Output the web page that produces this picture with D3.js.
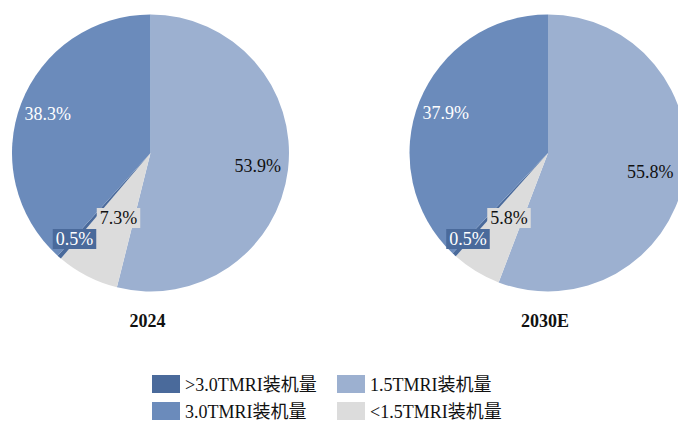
<!DOCTYPE html>
<html><head><meta charset="utf-8">
<script src="https://cdn.jsdelivr.net/npm/d3@7"></script>
<style>body{margin:0;background:#fff;}svg{display:block;}</style>
</head><body>
<svg id="c" width="678" height="421"></svg>
<script>
const categories = ["1.5TMRI装机量", "<1.5TMRI装机量", ">3.0TMRI装机量", "3.0TMRI装机量"];
const years = ["2024", "2030E"];
const values2024 = [53.9, 7.3, 0.5, 38.3];
const values2030 = [55.8, 5.8, 0.5, 37.9];
const legendOrder = [">3.0TMRI装机量", "1.5TMRI装机量", "3.0TMRI装机量", "<1.5TMRI装机量"];

const colors = {"1.5TMRI装机量":"#9cb0d0","<1.5TMRI装机量":"#dcdcdc",">3.0TMRI装机量":"#4a6a9b","3.0TMRI装机量":"#6b8bbb"};
const textColors = {"1.5TMRI装机量":"#111","<1.5TMRI装机量":"#111",">3.0TMRI装机量":"#fff","3.0TMRI装机量":"#fff"};
const serif = "'Liberation Serif','Times New Roman',serif";
const cjk = "'Liberation Serif','Noto Sans CJK SC',serif";

const svg = d3.select("#c");
const R = 138.5;
const centers = [[150.5,153],[548,153]];
const labelR = [[108,72,112,110],[104,72,112,110]];
const boxed = [false,true,true,false];

const pie = d3.pie().sort(null).value(d=>d.v);
const arc = d3.arc().innerRadius(0).outerRadius(R);

[values2024, values2030].forEach((vals, pi) => {
  const data = categories.map((c,i)=>({c, v: vals[i]}));
  const arcs = pie(data);
  const g = svg.append("g").attr("transform", `translate(${centers[pi][0]},${centers[pi][1]})`);
  g.selectAll("path").data(arcs).join("path")
    .attr("d", arc).attr("fill", d=>colors[d.data.c]);
  arcs.forEach((a,i)=>{
    const m = (a.startAngle + a.endAngle)/2;
    const r = labelR[pi][i];
    let x = Math.sin(m)*r, y = -Math.cos(m)*r;
    if (i===1) { x = pi===0 ? -32 : -39; y = 65; }
    if (i===2) { x = pi===0 ? -76 : -80; y = 86; }
    const lg = g.append("g");
    const t = lg.append("text").attr("x", x).attr("y", y).attr("dy","0.35em")
      .attr("text-anchor","middle").attr("font-family", serif).attr("font-size", 18)
      .attr("fill", textColors[a.data.c]).text(d3.format(".1f")(a.data.v)+"%");
    if (boxed[i]) {
      const bb = t.node().getBBox();
      lg.insert("rect","text").attr("x", bb.x-3).attr("y", y-10).attr("width", bb.width+6).attr("height", 20)
        .attr("fill", colors[a.data.c]);
    }
  });
  svg.append("text").attr("x", centers[pi][0]-3).attr("y", 327)
    .attr("text-anchor","middle").attr("font-family", serif).attr("font-weight","bold")
    .attr("font-size", 18).attr("fill","#111").text(years[pi]);
});

// legend
const legX = [152, 337], legY = [375, 402];
legendOrder.forEach((c,i)=>{
  const col = i%2, row = Math.floor(i/2);
  svg.append("rect").attr("x", legX[col]).attr("y", legY[row]).attr("width", 28).attr("height", 18)
    .attr("fill", colors[c]);
  svg.append("text").attr("x", legX[col]+33).attr("y", legY[row]+10).attr("dy","0.35em")
    .attr("font-family", cjk).attr("font-size", 18).attr("fill","#111").text(c);
});
</script>
</body></html>
